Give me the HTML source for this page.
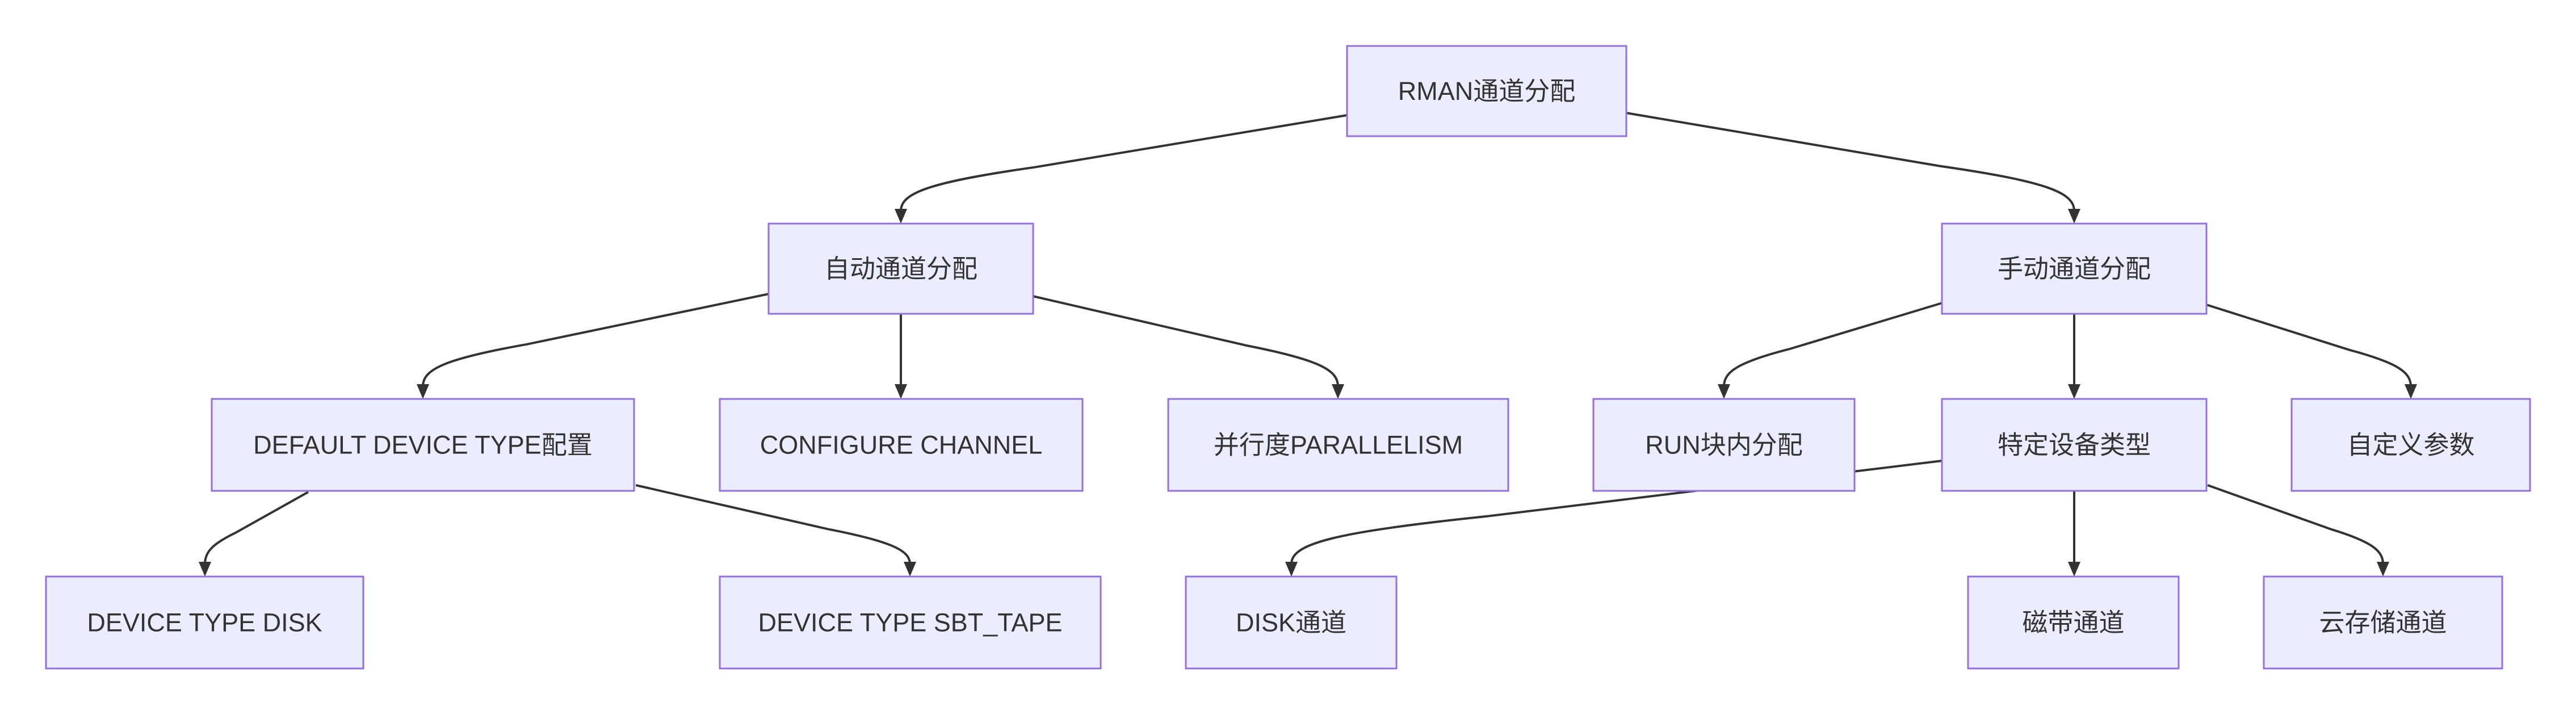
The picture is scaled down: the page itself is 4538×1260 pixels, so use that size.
<!DOCTYPE html>
<html><head><meta charset="utf-8"><style>
html,body{margin:0;padding:0;background:#fff;width:4538px;height:1260px;overflow:hidden}
svg{display:block}
text{font-family:"Liberation Sans","Noto Sans CJK SC",sans-serif;font-size:45px;fill:#333;text-anchor:middle;dominant-baseline:central}
rect{fill:#ECECFF;stroke:#9370DB;stroke-width:3}
.e{fill:none;stroke:#333;stroke-width:4}
.a{fill:#333}
</style></head><body>
<svg id="s" width="4538" height="1260" viewBox="0 0 4538 1260" xmlns="http://www.w3.org/2000/svg">
<g id="edges"></g><g id="nodes"></g>
</svg>
<script>
var N='http://www.w3.org/2000/svg';
var nodes=[
[2373,81,2865,240,'RMAN通道分配'],
[1354,394,1820,553,'自动通道分配'],
[3421,394,3887,553,'手动通道分配'],
[373,703,1117,865,'DEFAULT DEVICE TYPE配置'],
[1268,703,1907,865,'CONFIGURE CHANNEL'],
[2058,703,2657,865,'并行度PARALLELISM'],
[2807,703,3267,865,'RUN块内分配'],
[3421,703,3887,865,'特定设备类型'],
[4037,703,4457,865,'自定义参数'],
[81,1016,640,1178,'DEVICE TYPE DISK'],
[1268,1016,1939,1178,'DEVICE TYPE SBT_TAPE'],
[2089,1016,2460,1178,'DISK通道'],
[3467,1016,3838,1178,'磁带通道'],
[3988,1016,4408,1178,'云存储通道']];
var edges=[
[2373,203,1587,394],[2865,199,3654,394],
[1354,518,745,703],[1587,553,1587,703],[1820,522,2357,703],
[3421,534,3037,703],[3654,553,3654,703],[3887,537,4247,703],
[543,867,361,1016],[1120,855,1603,1016],
[3421,812,2275,1016],[3654,865,3654,1016],[3889,855,4198,1016]];
var eg=document.getElementById('edges'),ng=document.getElementById('nodes');
edges.forEach(function(e){
 var sx=e[0],sy=e[1],ex=e[2],ey=e[3],dx=sx-ex,dy=ey-sy,d;
 var tip=ey-22;
 if(dx===0){d='M'+sx+','+sy+' L'+ex+','+tip;}
 else{
  var ax=ex+0.3*dx, ay=ey-0.52*dy;
  d='M'+sx+','+sy+' L'+ax+','+ay+' C'+(ex+0.06*dx)+','+(ey-0.38*dy)+' '+ex+','+(ey-0.28*dy)+' '+ex+','+tip;
 }
 var p=document.createElementNS(N,'path');p.setAttribute('d',d);p.setAttribute('class','e');eg.appendChild(p);
 var t=document.createElementNS(N,'path');t.setAttribute('d','M'+(ex-11)+','+(ey-26)+' L'+(ex+11)+','+(ey-26)+' L'+ex+','+ey+' Z');t.setAttribute('class','a');eg.appendChild(t);
});
nodes.forEach(function(n){
 var r=document.createElementNS(N,'rect');r.setAttribute('x',n[0]);r.setAttribute('y',n[1]);r.setAttribute('width',n[2]-n[0]);r.setAttribute('height',n[3]-n[1]);ng.appendChild(r);
 var t=document.createElementNS(N,'text');t.setAttribute('x',(n[0]+n[2])/2);t.setAttribute('y',(n[1]+n[3])/2);t.textContent=n[4];ng.appendChild(t);
});
</script>
</body></html>
